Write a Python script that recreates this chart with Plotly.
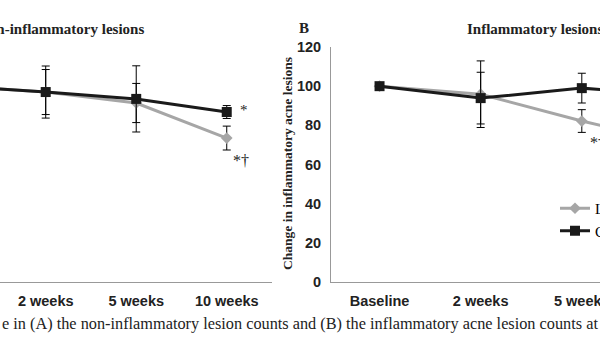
import plotly.graph_objects as go

W, H = 600, 362

categories = ["Baseline", "2 weeks", "5 weeks", "10 weeks"]

# Panel A: non-inflammatory lesions
a_treat = [100, 97.0, 91.4, 73.5]
a_treat_err = [0, 11.5, 10.0, 6.1]
a_ctrl = [100, 97.0, 93.5, 86.8]
a_ctrl_err = [0, 13.3, 16.9, 3.3]

# Panel B: inflammatory lesions
b_treat = [100, 95.9, 82.2, 70.0]
b_treat_err = [0, 17.0, 5.8, 6.0]
b_ctrl = [100, 93.9, 99.0, 95.0]
b_ctrl_err = [0, 13.2, 7.6, 6.0]

series_names = ["LED", "Control"]
yticks = [0, 20, 40, 60, 80, 100, 120]

GRAY = "#a6a6a6"
BLACK = "#1a1a1a"
AXIS = "#999999"
SERIF = "Liberation Serif"
SANS = "Liberation Sans"

xs = list(range(len(categories)))


def px(x):
    return x / W


def py(y):
    return 1 - y / H


fig = go.Figure()


def add_pair(treat, terr, ctrl, cerr, xa, ya, show):
    fig.add_trace(go.Scatter(
        x=xs, y=treat, name=series_names[0], mode="lines+markers",
        line=dict(color=GRAY, width=3),
        marker=dict(symbol="diamond", size=9, color=GRAY),
        error_y=dict(type="data", array=terr, color="black", thickness=1, width=4),
        xaxis=xa, yaxis=ya, showlegend=show,
    ))
    fig.add_trace(go.Scatter(
        x=xs, y=ctrl, name=series_names[1], mode="lines+markers",
        line=dict(color=BLACK, width=3),
        marker=dict(symbol="square", size=10, color=BLACK),
        error_y=dict(type="data", array=cerr, color="black", thickness=1, width=4),
        xaxis=xa, yaxis=ya, showlegend=show,
    ))


add_pair(a_treat, a_treat_err, a_ctrl, a_ctrl_err, "x", "y", False)
add_pair(b_treat, b_treat_err, b_ctrl, b_ctrl_err, "x2", "y2", True)

ydom = [py(282), py(47)]
tickfont = dict(family=SANS, size=14.5, color="#222222", weight="bold")

fig.update_layout(
    width=W, height=H,
    margin=dict(l=0, r=0, t=0, b=0, autoexpand=False),
    paper_bgcolor="white", plot_bgcolor="white",
    xaxis=dict(domain=[0, px(272)], range=[0.495, 3.5],
               tickvals=xs, ticktext=categories, tickfont=tickfont,
               showline=True, linecolor=AXIS, linewidth=1, ticks="",
               showgrid=False, zeroline=False, ticklabelstandoff=6, automargin=False,
               ticklabeloverflow="allow"),
    yaxis=dict(domain=ydom, range=[0, 120], showline=False,
               showticklabels=False, showgrid=False, zeroline=False, automargin=False),
    xaxis2=dict(domain=[px(331), 1], range=[-0.48, 2.18], anchor="y2",
                tickvals=xs, ticktext=categories, tickfont=tickfont,
                showline=True, linecolor=AXIS, linewidth=1, ticks="",
                showgrid=False, zeroline=False, ticklabelstandoff=6, automargin=False,
                ticklabeloverflow="allow"),
    yaxis2=dict(domain=ydom, range=[0, 120], anchor="x2",
                tickvals=yticks, tickfont=tickfont,
                showline=True, linecolor=AXIS, linewidth=1, ticks="",
                showgrid=False, zeroline=False, ticklabelstandoff=6, automargin=False),
    legend=dict(x=px(555), y=py(192), xanchor="left", yanchor="top",
                font=dict(family=SERIF, size=15, color="black"),
                itemwidth=30, tracegroupgap=4, bgcolor="rgba(0,0,0,0)"),
    showlegend=True,
)

ann = [
    dict(text="<b>Non-inflammatory lesions</b>", x=px(146), y=py(29), xanchor="right",
         font=dict(family=SERIF, size=15, color="#222")),
    dict(text="<b>Inflammatory lesions</b>", x=px(465), y=py(29), xanchor="left",
         font=dict(family=SERIF, size=15, color="#222")),
    dict(text="<b>B</b>", x=px(297), y=py(28), xanchor="left",
         font=dict(family=SERIF, size=15, color="#222")),
    dict(text="<b>Change in inflammatory acne lesions</b>", x=px(288), y=py(164),
         textangle=-90, font=dict(family=SERIF, size=13.5, color="#222")),
    dict(text="*", x=px(244), y=py(110), font=dict(family=SERIF, size=15, color="#222")),
    dict(text="*†", x=px(241), y=py(161), font=dict(family=SERIF, size=16, color="#222")),
    dict(text="*†", x=px(588), y=py(143), xanchor="left",
         font=dict(family=SERIF, size=16, color="#222")),
    dict(text="e in (A) the non-inflammatory lesion counts and (B) the inflammatory acne lesion counts at each visit.",
         x=px(0), y=py(323), xanchor="left",
         font=dict(family=SERIF, size=16.3, color="#222")),
]
for a in ann:
    a.setdefault("xanchor", "center")
    a.update(xref="paper", yref="paper", yanchor="middle", showarrow=False)
fig.update_layout(annotations=ann)

fig.write_html(
    "out.html",
    config={"displayModeBar": False},
    post_script="document.body.style.margin='0px';document.body.style.overflow='hidden';",
)
